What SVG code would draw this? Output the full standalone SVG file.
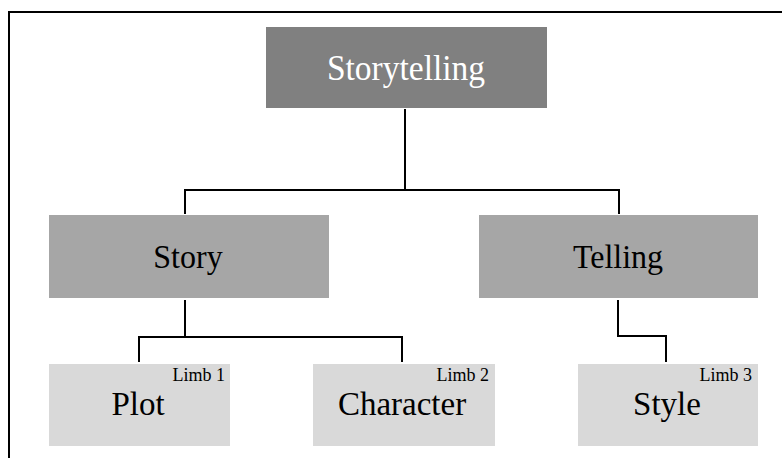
<svg xmlns="http://www.w3.org/2000/svg" width="782" height="458" viewBox="0 0 782 458">
  <style>
    .box-top { fill: #808080; }
    .box-mid { fill: #a6a6a6; }
    .box-leaf { fill: #d9d9d9; }
    .wire { fill: none; stroke: #000; stroke-width: 2; }
    .frame { fill: none; stroke: #000; stroke-width: 2; }
  </style>

  <rect width="782" height="458" fill="#fff"/>

  <!-- outer frame: top and left edges -->
  <path class="frame" d="M9,458 V12 H782"/>

  <!-- connectors -->
  <g id="connectors">
    <path class="wire" d="M405,109 V190"/>
    <path class="wire" d="M185,214 V190 H619 V214"/>
    <path class="wire" d="M185,300 V337"/>
    <path class="wire" d="M139,362 V337 H402 V362"/>
    <path class="wire" d="M618,300 V336 H666 V362"/>
  </g>

  <g font-family="Liberation Serif, Times New Roman, serif" font-size="32" text-anchor="middle" fill="#000">
    <g id="storytelling">
      <rect class="box-top" x="266" y="27" width="281" height="81"/>
      <text x="406" y="80" font-size="33.5" fill="#fff" transform="translate(0,-6.4) scale(1,1.08)">Storytelling</text>
    </g>

    <g id="story">
      <rect class="box-mid" x="49" y="215" width="280" height="83"/>
      <text x="188" y="268" transform="translate(0,-21.4) scale(1,1.08)">Story</text>
    </g>

    <g id="telling">
      <rect class="box-mid" x="479" y="215" width="279" height="83"/>
      <text x="618" y="268" transform="translate(0,-21.4) scale(1,1.08)">Telling</text>
    </g>

    <g id="plot">
      <rect class="box-leaf" x="49" y="364" width="181" height="82"/>
      <text x="225" y="381" font-size="18" text-anchor="end">Limb 1</text>
      <text x="138" y="415" font-size="33">Plot</text>
    </g>

    <g id="character">
      <rect class="box-leaf" x="313" y="364" width="182" height="82"/>
      <text x="489" y="381" font-size="18" text-anchor="end">Limb 2</text>
      <text x="402" y="415" font-size="33">Character</text>
    </g>

    <g id="style">
      <rect class="box-leaf" x="578" y="364" width="180" height="82"/>
      <text x="752" y="381" font-size="18" text-anchor="end">Limb 3</text>
      <text x="667" y="415" font-size="33">Style</text>
    </g>
  </g>
</svg>
